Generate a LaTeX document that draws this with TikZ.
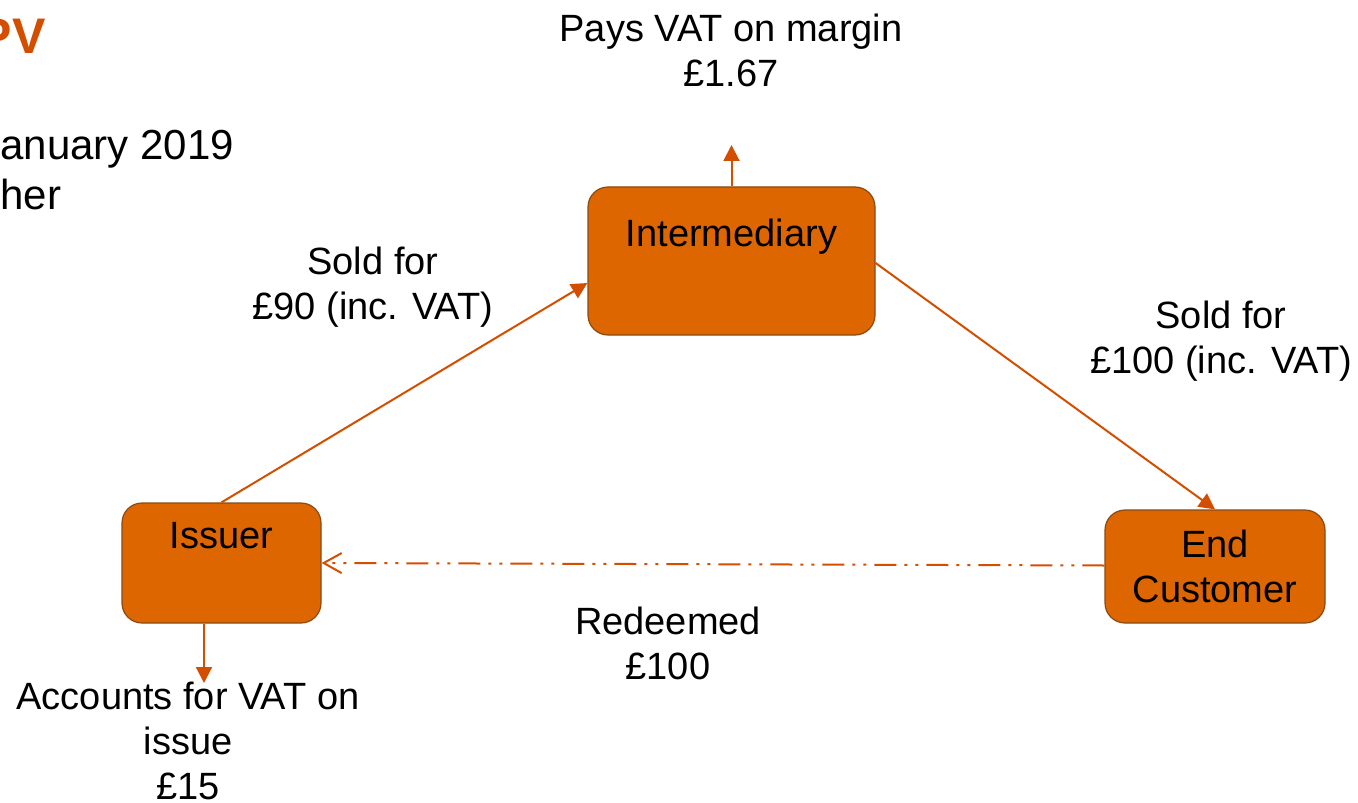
\documentclass[tikz,border=0pt]{standalone}
\usepackage{fontspec}
\setmainfont{Liberation Sans}
\usepackage{tikz}
\usetikzlibrary{positioning,arrows.meta}
\definecolor{boxfill}{HTML}{DD6600}
\definecolor{boxline}{HTML}{8A4A12}
\definecolor{flow}{HTML}{D44E00}

\begin{document}
\begin{tikzpicture}[
  x=0.5pt, y=-0.5pt,
  font=\fontsize{19}{22.5}\selectfont,
  party/.style={
    rectangle, draw=boxline, fill=boxfill, rounded corners=10pt,
    line width=0.6pt, inner sep=0pt
  },
  lbl/.style={align=center, inner sep=0pt},
  arr/.style={-{Triangle[length=8pt,width=8pt]}, line width=1pt, flow},
  redeem/.style={-{Straight Barb[length=9pt,width=10pt]}, line width=1pt, flow,
    dash pattern=on 11pt off 4pt on 1.5pt off 4pt on 1.5pt off 4pt}
]
\useasboundingbox (0,0) rectangle (1358,802);

% Slide fragments at the left edge
\node[anchor=east, inner sep=0pt, text=flow, font=\fontsize{25}{30}\selectfont\bfseries]
  (title) at (46,36) {PV};
\node[anchor=base west, inner sep=0pt, font=\fontsize{21}{25}\selectfont]
  (date) at (0,160) {anuary 2019};
\node[anchor=base west, inner sep=0pt, font=\fontsize{21}{25}\selectfont]
  (frag) at (0,210) {her};

% Parties
\node[party, minimum width=143.5pt, minimum height=74pt] (inter) at (731.5,261) {};
\node[anchor=base, inner sep=0pt] (intertxt) at (731.5,247) {Intermediary};

\node[party, minimum width=99.5pt, minimum height=60pt] (issuer) at (221.5,563) {};
\node[anchor=base, inner sep=0pt] (issuertxt) at (221.5,548) {Issuer};

\node[party, minimum width=110pt, minimum height=56.5pt, lbl] (cust) at (1215,566.5)
  {End\\Customer};

% End points of the VAT arrows
\coordinate (margin) at (731.5,145);
\coordinate (issue) at (204,683);

% Labels
\node[lbl] (marginlbl) at (731,50) {Pays VAT on margin\\\pounds1.67};
\node[lbl] (sold90) at (373,287) {Sold for\\\pounds90 (inc. VAT)};
\node[lbl] (sold100) at (1221,341) {Sold for\\\pounds100 (inc. VAT)};
\node[lbl] (redeemlbl) at (668,643) {Redeemed\\\pounds100};
\node[lbl] (issuelbl) at (188,741) {Accounts for VAT on\\issue\\\pounds15};

% Flows
\draw[arr] (issuer.north) -- ([yshift=-11pt]inter.west);
\draw[arr] ([yshift=-1pt]inter.east) -- (cust.north);
\draw[arr] (inter.north) -- (margin);
\draw[arr] ([xshift=-8.75pt]issuer.south) -- (issue);
\draw[redeem] ([yshift=0.5pt]cust.west) -- (issuer.east);

\end{tikzpicture}
\end{document}
